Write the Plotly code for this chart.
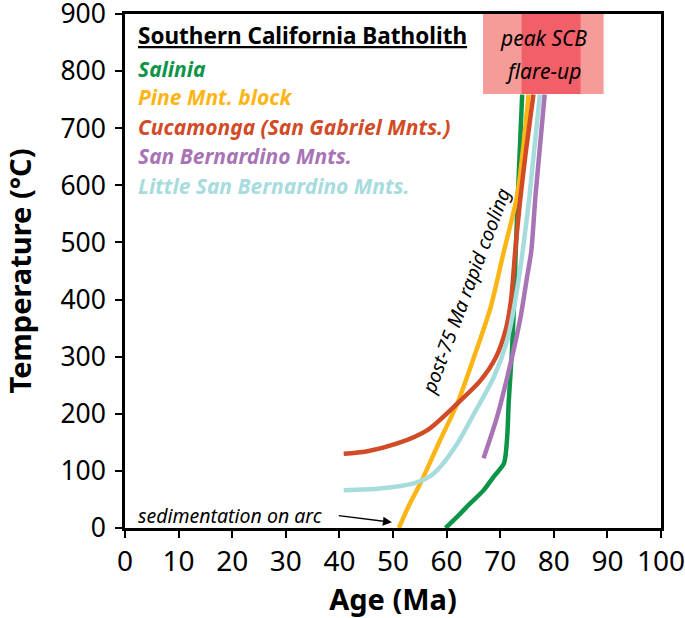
import plotly.graph_objects as go

# ---- data (Age in Ma, Temperature in °C) ----
salinia_age = [59.8, 62.0, 64.4, 66.8, 68.8, 70.7, 71.3, 71.6, 72.2, 72.6, 72.9, 73.3, 74.1]
salinia_T   = [0,    20,   43,   65,   90,   113,  159,  223,  311,  398,  485,  584,  759]

pine_age = [51.1, 53.0, 55.1, 58.8, 62.0, 65.1, 68.2, 70.7, 73.2, 75.3]
pine_T   = [0,    40,   78,   154,  218,  299,  386,  485,  584,  759]

cuca_age = [40.8, 45.0, 50.8, 56.5, 62.0, 66.3, 69.2, 71.0, 72.0, 72.8, 73.7, 74.8, 76.2]
cuca_T   = [130,  134,  148,  172,  218,  258,  299,  346,  398,  485,  572,  660,  759]

sb_age = [66.9, 69.4, 71.9, 73.8, 75.0, 75.8, 76.6, 78.3]
sb_T   = [122,  194,  287,  369,  439,  485,  584,  759]

lsb_age = [40.8, 47.6, 53.9, 56.8, 58.8, 62.0, 65.1, 68.8, 71.3, 72.8, 74.2, 75.5, 77.4]
lsb_T   = [66,   69,   78,   90,   107,  148,  200,  264,  328,  398,  485,  584,  759]

series_names = ["Salinia", "Pine Mnt. block", "Cucamonga (San Gabriel Mnts.)",
                "San Bernardino Mnts.", "Little San Bernardino Mnts."]
series_colors = ["#0D9448", "#FDB515", "#D24B27", "#A874B5", "#A6DCDD"]

flare_outer = [66.8, 89.3]
flare_inner = [74.0, 85.0]
flare_T = [760, 900]

x_ticks = [0, 10, 20, 30, 40, 50, 60, 70, 80, 90, 100]
y_ticks = [0, 100, 200, 300, 400, 500, 600, 700, 800, 900]

FONT = "Noto Sans"

fig = go.Figure()

series = [(salinia_age, salinia_T), (pine_age, pine_T), (cuca_age, cuca_T),
          (sb_age, sb_T), (lsb_age, lsb_T)]
for i in [0, 1, 2, 4, 3]:
    a, t = series[i]
    fig.add_trace(go.Scatter(x=a, y=t, mode="lines", name=series_names[i],
                             line=dict(color=series_colors[i], width=4.5,
                                       shape="spline", smoothing=0.7),
                             showlegend=False, hoverinfo="skip"))

fig.add_shape(type="rect", x0=flare_outer[0], x1=flare_outer[1], y0=flare_T[0], y1=flare_T[1],
              fillcolor="#F59C98", line=dict(width=0), layer="above")
fig.add_shape(type="rect", x0=flare_inner[0], x1=flare_inner[1], y0=flare_T[0], y1=flare_T[1],
              fillcolor="#F15F69", line=dict(width=0), layer="above")

ann = []
ann.append(dict(x=78, y=858, text="<i>peak SCB</i>", showarrow=False,
                font=dict(family=FONT, size=21, color="black"), xanchor="center", yanchor="middle"))
ann.append(dict(x=78, y=801, text="<i>flare-up</i>", showarrow=False,
                font=dict(family=FONT, size=21, color="black"), xanchor="center", yanchor="middle"))

ann.append(dict(x=2.0, y=862, text="<b><u>Southern California Batholith</u></b>", showarrow=False,
                font=dict(family=FONT, size=22.5, color="black"), xanchor="left", yanchor="middle"))
leg_y = [803, 754, 703, 651, 599]
for name, col, yy in zip(series_names, series_colors, leg_y):
    ann.append(dict(x=2.0, y=yy, text="<b><i>" + name + "</i></b>", showarrow=False,
                    font=dict(family=FONT, size=21, color=col), xanchor="left", yanchor="middle"))

ann.append(dict(x=63.6, y=415, text="<i>post-75 Ma rapid cooling</i>", showarrow=False,
                textangle=-69.5, font=dict(family=FONT, size=19.5, color="black"),
                xanchor="center", yanchor="middle"))

ann.append(dict(x=2.0, y=22, text="<i>sedimentation on arc</i>", showarrow=False,
                font=dict(family=FONT, size=19.5, color="black"), xanchor="left", yanchor="middle"))
ann.append(dict(x=49.8, y=10, ax=39.6, ay=22, xref="x", yref="y", axref="x", ayref="y",
                text="", showarrow=True, arrowhead=2, arrowsize=1.2, arrowwidth=1.5,
                arrowcolor="black"))

fig.update_layout(
    width=685, height=618,
    margin=dict(l=125, r=24, t=14, b=90),
    paper_bgcolor="white", plot_bgcolor="white",
    annotations=ann,
    font=dict(family=FONT, color="black"),
)
fig.update_xaxes(range=[0, 100], tickvals=x_ticks, ticks="outside", ticklen=7, tickwidth=2,
                 tickcolor="black", showline=True, linecolor="black", linewidth=2.5, mirror=True,
                 showgrid=False, zeroline=False, tickfont=dict(family=FONT, size=28),
                 automargin=False, ticklabeloverflow="allow",
                 title=dict(text="<b>Age (Ma)</b>", font=dict(family=FONT, size=29), standoff=10))
fig.update_yaxes(range=[0, 900], tickvals=y_ticks, ticks="outside", ticklen=7, tickwidth=2,
                 tickcolor="black", showline=True, linecolor="black", linewidth=2.5, mirror=True,
                 showgrid=False, zeroline=False, tickfont=dict(family=FONT, size=26.5),
                 automargin=False, ticklabeloverflow="allow", ticklabelstandoff=4,
                 title=dict(text="<b>Temperature (°C)</b>", font=dict(family=FONT, size=29), standoff=22))

fig.write_html("out.html", config={"displayModeBar": False},
               post_script="document.body.style.margin='0px';")
